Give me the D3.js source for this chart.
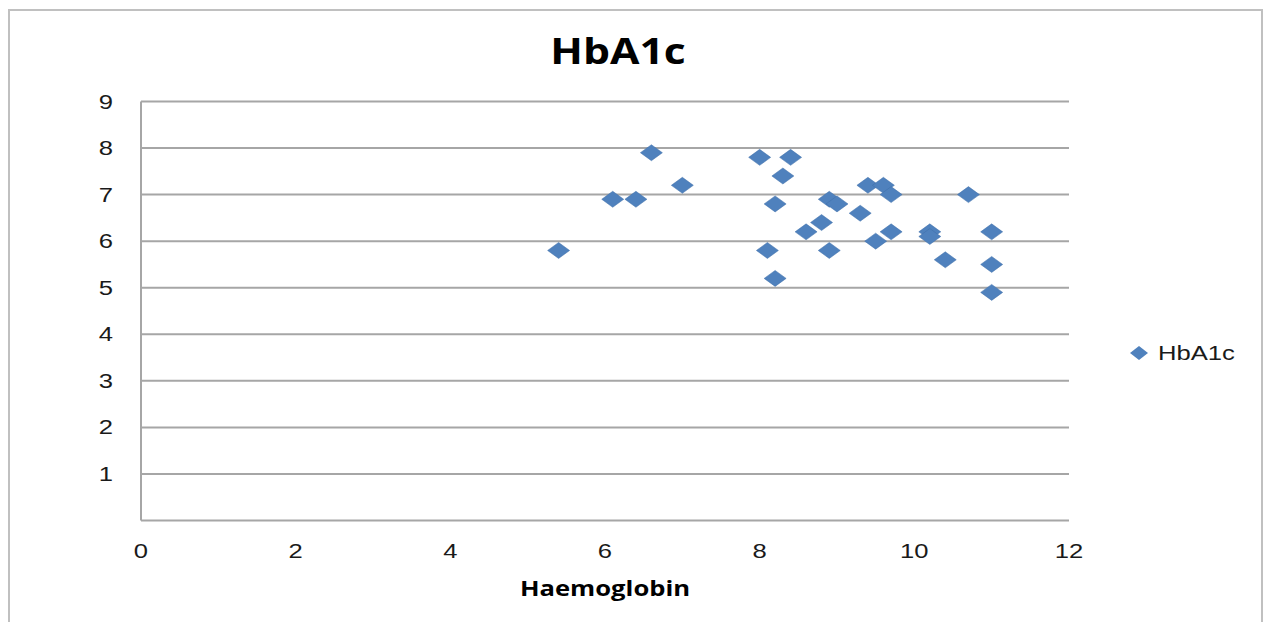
<!DOCTYPE html>
<html>
<head>
<meta charset="utf-8">
<script src="https://cdn.jsdelivr.net/npm/d3@7"></script>
<style>
  html, body { margin: 0; padding: 0; background: #fff; }
  svg { display: block; }
</style>
</head>
<body>
<svg id="chart" width="1264" height="622"></svg>
<script>
const chartTitle = "HbA1c";
const xAxisTitle = "Haemoglobin";
const seriesName = "HbA1c";
const xTicks = [0, 2, 4, 6, 8, 10, 12];
const yTicks = [1, 2, 3, 4, 5, 6, 7, 8, 9];
const haemoglobin = [5.4, 6.1, 6.4, 6.6, 7.0, 8.0, 8.4, 8.3, 8.2, 8.9, 9.0, 9.4, 9.6, 9.7, 9.3, 8.8, 8.6, 9.7, 9.5, 8.1, 8.9, 8.2, 10.7, 10.2, 10.2, 11.0, 10.4, 11.0, 11.0];
const hba1c =       [5.8, 6.9, 6.9, 7.9, 7.2, 7.8, 7.8, 7.4, 6.8, 6.9, 6.8, 7.2, 7.2, 7.0, 6.6, 6.4, 6.2, 6.2, 6.0, 5.8, 5.8, 5.2, 7.0, 6.2, 6.1, 6.2, 5.6, 5.5, 4.9];

(function () {
const svg = d3.select("#chart");
const color = "#4F81BD";
const gridColor = "#a6a6a6";
const textColor = "#1a1a1a";
const stretch = 1.22;

// outer chart border
svg.append("rect").attr("x", 9).attr("y", 10).attr("width", 1253).attr("height", 625)
  .attr("fill", "none").attr("stroke", "#c0c0c0").attr("stroke-width", 2);

const pLeft = 141, pRight = 1069, pTop = 101.5, pBottom = 520.5;
const x = d3.scaleLinear().domain([0, 12]).range([pLeft, pRight]);
const y = d3.scaleLinear().domain([0, 9]).range([pBottom, pTop]);

// gridlines
svg.append("g").selectAll("line").data(yTicks).join("line")
  .attr("x1", pLeft).attr("x2", pRight)
  .attr("y1", d => y(d)).attr("y2", d => y(d))
  .attr("stroke", gridColor).attr("stroke-width", 2);

// axes lines
svg.append("line").attr("x1", pLeft).attr("x2", pLeft).attr("y1", pTop).attr("y2", pBottom)
  .attr("stroke", gridColor).attr("stroke-width", 2);
svg.append("line").attr("x1", pLeft).attr("x2", pRight).attr("y1", pBottom).attr("y2", pBottom)
  .attr("stroke", gridColor).attr("stroke-width", 2);

const place = (tx, ty) => `translate(${tx},${ty}) scale(${stretch},1)`;

// tick labels
const tickFont = "'Liberation Sans', Arial, sans-serif";
svg.append("g").selectAll("text").data(yTicks).join("text")
  .attr("transform", d => place(113, y(d) + 7))
  .attr("text-anchor", "end")
  .attr("font-family", tickFont).attr("font-size", 21).attr("fill", textColor)
  .text(d => d);
svg.append("g").selectAll("text").data(xTicks).join("text")
  .attr("transform", d => place(x(d), 558))
  .attr("text-anchor", "middle")
  .attr("font-family", tickFont).attr("font-size", 21).attr("fill", textColor)
  .text(d => d);

// titles
svg.append("text").attr("transform", place(618, 64)).attr("text-anchor", "middle")
  .attr("font-family", "'Open Sans', sans-serif").attr("font-weight", "bold")
  .attr("font-size", 35).attr("fill", "#000").text(chartTitle);
svg.append("text").attr("transform", place(605, 596)).attr("text-anchor", "middle")
  .attr("font-family", "'Open Sans', sans-serif").attr("font-weight", "bold")
  .attr("font-size", 21).attr("fill", "#000").text(xAxisTitle);

// diamonds
const diamond = (cx, cy, hw, hh) => `M${cx},${cy - hh}L${cx + hw},${cy}L${cx},${cy + hh}L${cx - hw},${cy}Z`;
const pts = haemoglobin.map((h, i) => ({h, v: hba1c[i]}));
svg.append("g").selectAll("path").data(pts).join("path")
  .attr("d", d => diamond(x(d.h), y(d.v), 11, 8))
  .attr("fill", color).attr("stroke", "#3f6fa8").attr("stroke-width", 0.5);

// legend
svg.append("path").attr("d", diamond(1139, 353, 9, 7)).attr("fill", color);
svg.append("text").attr("transform", place(1158, 360))
  .attr("font-family", tickFont).attr("font-size", 21).attr("fill", textColor)
  .text(seriesName);
})();
</script>
</body>
</html>
